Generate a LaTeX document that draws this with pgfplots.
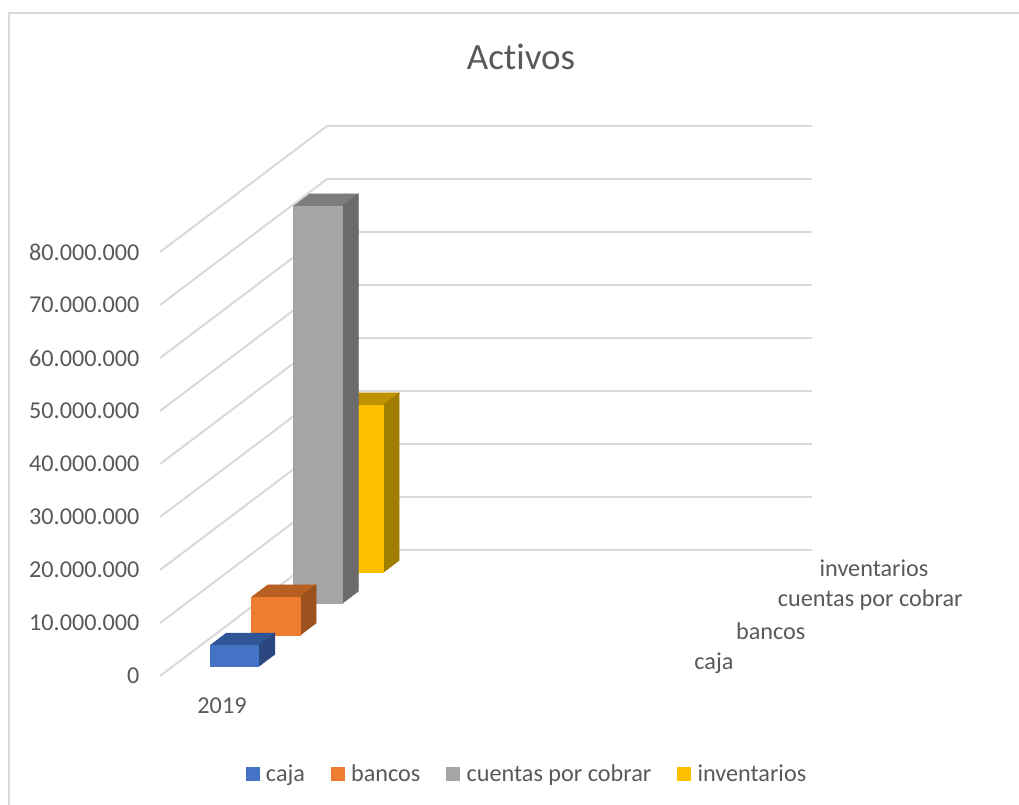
\documentclass[border=0pt]{standalone}
\usepackage{fontspec}
\setmainfont[RawFeature={-liga}]{Carlito}
\usepackage{pgfplots}
\pgfplotsset{compat=1.18}
\definecolor{txt}{HTML}{595959}
\definecolor{rejilla}{HTML}{D9D9D9}
\definecolor{azul}{HTML}{4472C4}
\definecolor{azultop}{HTML}{2F5597}
\definecolor{azullado}{HTML}{2A4780}
\definecolor{naranja}{HTML}{ED7D31}
\definecolor{naranjatop}{HTML}{B85F22}
\definecolor{naranjalado}{HTML}{9B521E}
\definecolor{gris}{HTML}{A5A5A5}
\definecolor{gristop}{HTML}{7C7C7C}
\definecolor{grislado}{HTML}{6B6B6B}
\definecolor{amarillo}{HTML}{FFC000}
\definecolor{amarillotop}{HTML}{C09100}
\definecolor{amarillolado}{HTML}{A07E00}
% one 3D bar: depth from, depth to, value (millions), front, top, side colours
\newcommand{\cubo}[6]{%
  \addplot3[forget plot,draw=#5,line width=0.5pt,fill=#5] coordinates {(37.6,#1,#3) (86,#1,#3) (86,#2,#3) (37.6,#2,#3) (37.6,#1,#3)};
  \addplot3[forget plot,draw=#6,line width=0.5pt,fill=#6] coordinates {(86,#1,0) (86,#2,0) (86,#2,#3) (86,#1,#3) (86,#1,0)};
  \addplot3[forget plot,draw=#4,line width=0.5pt,fill=#4] coordinates {(37.6,#1,0) (86,#1,0) (86,#1,#3) (37.6,#1,#3) (37.6,#1,0)};
}
\pgfplotsset{
  cuadro/.style={legend image code/.code={
    \fill[##1,draw=none] (0pt,-7pt) rectangle (14pt,7pt);
    \path (18pt,0pt);}},
}
\begin{document}
\begin{tikzpicture}
\path[use as bounding box] (0pt,-805pt) rectangle (1019pt,0pt);
\draw[rejilla,line width=2pt] (9pt,-805pt) -- (9pt,-13pt) -- (1019pt,-13pt);
\node[txt,font=\fontsize{37}{40}\selectfont] at (521pt,-57pt) {Activos};
\begin{axis}[
  at={(160pt,-676pt)}, anchor=origin,
  x={(1pt,0pt)}, y={(41.75pt,31.5pt)}, z={(0pt,5.3pt)},
  disabledatascaling,
  xmin=0, xmax=485, ymin=0, ymax=4, zmin=0, zmax=80,
  clip=false,
  axis line style={draw=none},
  major tick length=0pt,
  tick style={draw=none},
  zmajorgrids=true,
  grid style={rejilla,line width=2pt},
  xtick={62}, xticklabels={2019},
  ytick={0.5,1.5,2.5,3.5},
  yticklabels={caja,bancos,cuentas por cobrar,inventarios},
  ztick={0,10,...,80},
  zticklabels={0,10.000.000,20.000.000,30.000.000,40.000.000,50.000.000,60.000.000,70.000.000,80.000.000},
  ticklabel style={font=\fontsize{24.2}{26}\selectfont,text=txt},
  xticklabel style={anchor=center,yshift=-30pt},
  yticklabel style={anchor=west,xshift=25pt,yshift=-2.5pt},
  zticklabel style={anchor=east,xshift=-17pt},
  legend columns=-1,
  legend style={
    at={(axis cs:367,0,-18.5)},anchor=center,
    draw=none,fill=none,
    font=\fontsize{24.2}{26}\selectfont,text=txt,
    /tikz/every even column/.append style={column sep=24pt},
  },
]
\cubo{3.28}{3.67}{31.6}{amarillo}{amarillotop}{amarillolado}
\cubo{2.30}{2.69}{75.0}{gris}{gristop}{grislado}
\cubo{1.29}{1.68}{7.2}{naranja}{naranjatop}{naranjalado}
\cubo{0.30}{0.69}{4.0}{azul}{azultop}{azullado}
\addlegendimage{cuadro,fill=azul}
\addlegendimage{cuadro,fill=naranja}
\addlegendimage{cuadro,fill=gris}
\addlegendimage{cuadro,fill=amarillo}
\legend{caja,bancos,cuentas por cobrar,inventarios}
\end{axis}
\end{tikzpicture}
\end{document}
